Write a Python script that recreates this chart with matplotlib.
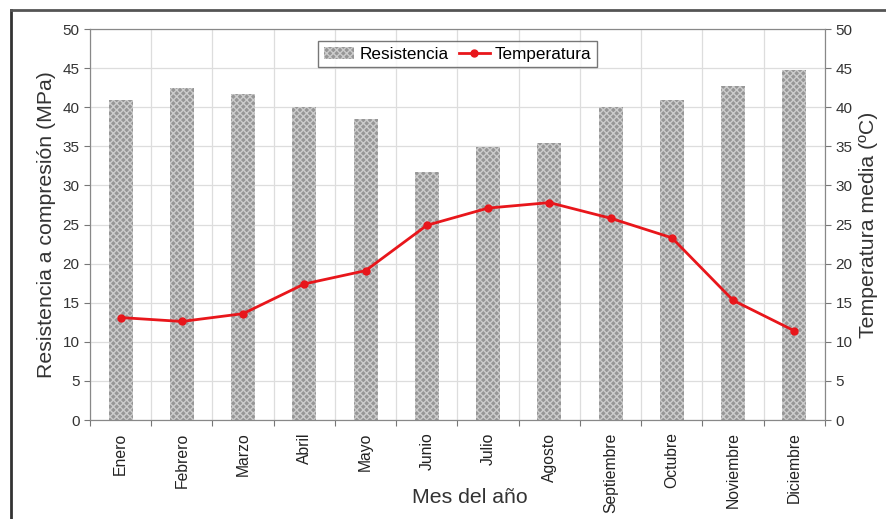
import matplotlib.pyplot as plt
from matplotlib.lines import Line2D
import numpy as np

# Monthly data
meses = ['Enero', 'Febrero', 'Marzo', 'Abril', 'Mayo', 'Junio', 'Julio',
         'Agosto', 'Septiembre', 'Octubre', 'Noviembre', 'Diciembre']
resistencia = [40.9, 42.4, 41.7, 40.0, 38.5, 31.7, 34.9, 35.4, 40.0, 40.9, 42.7, 44.7]
temperatura = [13.1, 12.6, 13.6, 17.4, 19.1, 24.9, 27.1, 27.8, 25.8, 23.3, 15.3, 11.4]

plt.rcParams['font.family'] = ['Liberation Sans', 'DejaVu Sans']
plt.rcParams['hatch.linewidth'] = 1.0

fig = plt.figure(figsize=(8.87, 5.19), dpi=100)
ax = fig.add_axes([90 / 887, 1 - 420 / 519, (825 - 90) / 887, (420 - 29) / 519])

x = np.arange(len(meses))
bars = ax.bar(x, resistencia, width=0.39, color='#969696', edgecolor='#cccccc',
              linewidth=0, hatch='xxxxx', label='Resistencia', zorder=2)

ax.set_xlim(-0.5, len(meses) - 0.5)
ax.set_ylim(0, 50)
ax.set_yticks(np.arange(0, 51, 5))
ax.set_xticks(np.arange(-0.5, len(meses), 1.0))
ax.set_xticklabels([])
ax.set_xticks(x, minor=True)
ax.set_xticklabels(meses, minor=True, rotation=90, fontsize=11.3, color='#222222')
ax.tick_params(axis='x', which='minor', length=0, pad=9)
ax.tick_params(axis='x', which='major', length=4, color='#777777')
ax.tick_params(axis='y', length=4, color='#777777', labelsize=11, labelcolor='#333333')
ax.grid(True, which='major', color='#dddddd', linewidth=0.9, zorder=0)
ax.set_axisbelow(True)
for s in ax.spines.values():
    s.set_color('#888888')
ax.set_ylabel('Resistencia a compresión (MPa)', fontsize=15.3, color='#333333', labelpad=5)
ax.set_xlabel('Mes del año', fontsize=15.3, color='#333333')
ax.xaxis.set_label_coords(0.517, -0.175)

ax2 = ax.twinx()
line, = ax2.plot(x, temperatura, color='#e8161b', marker='o', markersize=5,
                 linewidth=2, label='Temperatura', zorder=3)
ax2.set_ylim(0, 50)
ax2.set_yticks(np.arange(0, 51, 5))
ax2.tick_params(axis='y', length=4, color='#777777', labelsize=11, labelcolor='#333333')
for s in ax2.spines.values():
    s.set_color('#888888')
ax2.set_ylabel('Temperatura media (ºC)', fontsize=15.3, color='#333333', labelpad=5)

leg = ax.legend([bars, line], ['Resistencia', 'Temperatura'], loc='upper center',
                bbox_to_anchor=(0.5, 0.99), ncol=2, fontsize=12.3, frameon=True,
                fancybox=False, edgecolor='#555555', handlelength=1.8,
                columnspacing=0.6, handletextpad=0.3, borderpad=0.3)
leg.get_frame().set_linewidth(1.0)
leg.set_zorder(5)

# outer frame of the figure
fig.add_artist(Line2D([11 / 887, 11 / 887], [0, 1 - 10 / 519], color='#333333', linewidth=2))
fig.add_artist(Line2D([11 / 887, 1], [1 - 10 / 519, 1 - 10 / 519], color='#555555', linewidth=2))

fig.savefig('out.png', dpi=100)
